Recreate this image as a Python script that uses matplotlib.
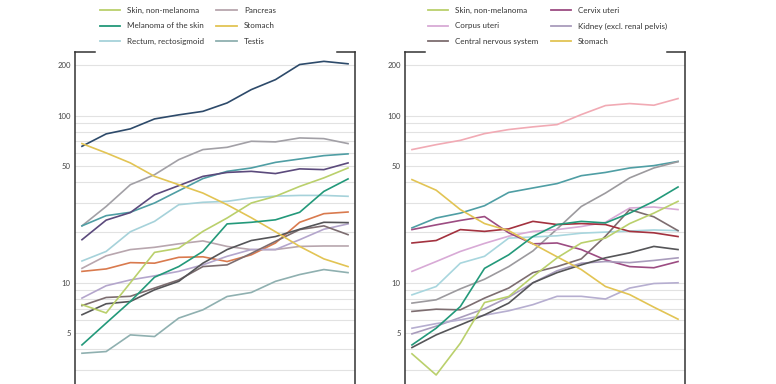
import matplotlib.pyplot as plt
from matplotlib.lines import Line2D
from matplotlib.ticker import FixedLocator, NullFormatter

plt.rcParams['font.family'] = ['Lato', 'DejaVu Sans']

# 12 periods (x axis itself is cropped out of the picture)
periods = [1960, 1965, 1970, 1975, 1980, 1985, 1990, 1995, 2000, 2005, 2010, 2015]

# left panel (men)
men_navy = [65.5, 77.7, 83.3, 95.5, 101, 106, 119, 143, 164, 202, 211, 204]
men_gray = [21.9, 28.6, 38.6, 44.3, 54.5, 62.6, 64.6, 70.2, 69.6, 73.5, 72.8, 68]
men_teal = [21.9, 25.2, 26.4, 30.0, 35.5, 42, 46.4, 48.6, 52.5, 55, 57.6, 59]
men_purple = [18.1, 23.7, 26.3, 33.6, 38.1, 43.3, 45.7, 46.4, 45, 48, 47.5, 52.1]
men_skin = [7.4, 6.6, 10, 15.2, 16.1, 20.3, 24.4, 30, 32.9, 37.7, 42.4, 48.6]
men_melanoma = [4.25, 5.74, 7.73, 10.8, 12.5, 15.4, 22.5, 23, 23.8, 26.4, 35.2, 41.8]
men_rectum = [13.5, 15.4, 20.2, 23.3, 29.3, 30.3, 30.7, 32.2, 33, 33.3, 33.3, 32.9]
men_stomach = [68, 59.8, 52.1, 43.3, 38.6, 34.4, 29.3, 24.5, 20.2, 16.5, 13.9, 12.5]
men_orange = [11.7, 12.1, 13.2, 13.1, 14.2, 14.3, 13.4, 14.7, 17.3, 23, 25.9, 26.5]
men_pancreas = [12.2, 14.5, 15.8, 16.3, 17.1, 17.8, 16.5, 15.8, 15.8, 16.5, 16.6, 16.6]
men_lavender = [8.1, 9.6, 10.4, 11.0, 11.7, 12.8, 14.4, 15.8, 15.8, 18.1, 20.9, 22.5]
men_darkgray = [6.44, 7.49, 7.73, 9.08, 10.2, 13.1, 15.8, 17.9, 18.9, 20.9, 23, 22.9]
men_brown = [7.3, 8.17, 8.3, 9.3, 10.4, 12.5, 12.8, 15, 17.7, 20.8, 21.9, 19.4]
men_testis = [3.79, 3.88, 4.88, 4.77, 6.15, 6.89, 8.28, 8.75, 10.2, 11.2, 12.0, 11.5]

# right panel (women)
women_pink = [62.6, 67, 71.1, 78, 82.5, 85.6, 88.3, 101.4, 114.8, 118, 115.3, 126.4]
women_teal = [21.3, 24.4, 26.1, 28.9, 34.7, 36.9, 39.2, 43.7, 45.7, 48.6, 50.2, 53.2]
women_gray = [7.56, 7.91, 9.2, 10.5, 12.5, 15.5, 21, 28.6, 34.4, 42.4, 48.6, 53]
women_melanoma = [4.25, 5.35, 7.21, 12.2, 14.7, 18.9, 22.3, 23.3, 22.8, 26.1, 30.7, 37.4]
women_skin = [3.76, 2.81, 4.35, 7.62, 8.28, 10.9, 14.1, 17.3, 18.5, 22.6, 26.1, 30.7]
women_corpus = [11.7, 13.4, 15.4, 17.2, 19.0, 20.3, 20.8, 21.7, 23, 28, 28.4, 27.4]
women_cns = [6.74, 6.95, 6.89, 8.1, 9.3, 11.5, 12.5, 13.9, 19.0, 27.4, 24.8, 20.5]
women_kidney = [4.95, 5.5, 6.2, 7.0, 8.2, 10.0, 11.8, 13.1, 13.4, 13.2, 13.6, 14.1]
women_lavender = [5.35, 5.7, 6.0, 6.4, 6.8, 7.4, 8.3, 8.3, 8.0, 9.3, 9.9, 10.0]
women_darkgray = [4.10, 4.88, 5.6, 6.43, 7.56, 10, 11.5, 12.8, 14.1, 15.1, 16.5, 15.8]
women_darkred = [17.3, 17.9, 20.8, 20.3, 21.0, 23.3, 22.3, 22.6, 22.3, 20.3, 19.9, 18.9]
women_cervix = [20.8, 22.2, 23.6, 24.9, 19.9, 17.1, 17.3, 15.8, 13.7, 12.5, 12.3, 13.4]
women_stomach = [41.4, 35.8, 27.4, 22.6, 20.5, 17.1, 14.3, 12.0, 9.5, 8.5, 7.15, 6.06]
women_lightblue = [8.47, 9.5, 13.1, 14.4, 18.5, 18.8, 19.1, 19.8, 20.1, 20.4, 20.7, 20.5]

major_ticks = [5, 10, 50, 100, 200]
minor_ticks = [1, 2, 3, 4, 6, 7, 8, 9, 20, 30, 40, 60, 70, 80, 90]

left_series = [
    (men_navy, '#2d4a6a', None),
    (men_gray, '#a2a0a6', None),
    (men_teal, '#4f9ea4', None),
    (men_purple, '#5b4a7c', None),
    (men_rectum, '#a6d2da', 'Rectum, rectosigmoid'),
    (men_pancreas, '#b8a6ae', 'Pancreas'),
    (men_orange, '#d97a4e', None),
    (men_lavender, '#b4a6cc', None),
    (men_brown, '#7d6d70', None),
    (men_darkgray, '#555558', None),
    (men_testis, '#8fb0b0', 'Testis'),
    (men_stomach, '#e2c454', 'Stomach'),
    (men_skin, '#bad06c', 'Skin, non-melanoma'),
    (men_melanoma, '#23997a', 'Melanoma of the skin'),
]
right_series = [
    (women_pink, '#f1aab4', None),
    (women_teal, '#4f9ea4', None),
    (women_gray, '#9c9a9e', None),
    (women_lightblue, '#a8d6de', None),
    (women_corpus, '#d8aad6', 'Corpus uteri'),
    (women_cns, '#7d6d70', 'Central nervous system'),
    (women_darkred, '#a3323f', None),
    (women_cervix, '#9c4c82', 'Cervix uteri'),
    (women_kidney, '#a99cbc', 'Kidney (excl. renal pelvis)'),
    (women_lavender, '#b6aed0', None),
    (women_darkgray, '#555558', None),
    (women_stomach, '#e2c454', 'Stomach'),
    (women_skin, '#bad06c', 'Skin, non-melanoma'),
    (women_melanoma, '#23997a', None),
]

left_legend = ['Skin, non-melanoma', 'Melanoma of the skin', 'Rectum, rectosigmoid',
               'Pancreas', 'Stomach', 'Testis']
right_legend = ['Skin, non-melanoma', 'Corpus uteri', 'Central nervous system',
                'Cervix uteri', 'Kidney (excl. renal pelvis)', 'Stomach']

W, H = 776, 384
fig = plt.figure(figsize=(W / 100, H / 100), dpi=100)


def panel(x0, series, legend_labels, leg_x):
    ax = fig.add_axes([x0 / W, (H - 450) / H, 280 / W, 398 / H])
    ax.set_yscale('log')
    ax.set_ylim(1, 240)
    ax.set_xlim(periods[0] - 1.44, periods[-1] + 1.44)
    colors = {}
    for vals, c, lab in series:
        ax.plot(periods, vals, color=c, lw=1.2, solid_joinstyle='round')
        if lab:
            colors[lab] = c
    ax.yaxis.set_major_locator(FixedLocator(major_ticks))
    ax.yaxis.set_minor_locator(FixedLocator(minor_ticks))
    ax.set_yticklabels([str(t) for t in major_ticks])
    ax.yaxis.set_minor_formatter(NullFormatter())
    ax.tick_params(axis='y', which='both', length=0, pad=3, labelsize=5.6, labelcolor='#444444')
    ax.tick_params(axis='x', length=0, labelbottom=False)
    ax.grid(True, axis='y', which='both', color='#e2e2e2', lw=0.8)
    ax.set_axisbelow(True)
    for s in ['left', 'right']:
        ax.spines[s].set_color('#333333')
        ax.spines[s].set_linewidth(1.1)
    ax.spines['top'].set_visible(False)
    ax.spines['bottom'].set_visible(False)
    # corner brackets at the top
    ax.plot([0, 0.07], [1, 1], transform=ax.transAxes, color='#333333', lw=1.1, clip_on=False)
    ax.plot([0.935, 1], [1, 1], transform=ax.transAxes, color='#333333', lw=1.1, clip_on=False)
    handles = [Line2D([], [], color=colors[l], lw=1.3) for l in legend_labels]
    fig.legend(handles, legend_labels, loc='lower left', ncol=2, frameon=False,
               bbox_to_anchor=(leg_x / W, (H - 45) / H), fontsize=5.8,
               handlelength=2.5, handletextpad=0.9, labelspacing=1.05,
               columnspacing=1.5, borderpad=0, borderaxespad=0,
               labelcolor='#333333')
    return ax


panel(75, left_series, left_legend, 100)
panel(405, right_series, right_legend, 428)

fig.savefig('out.png', dpi=100)
